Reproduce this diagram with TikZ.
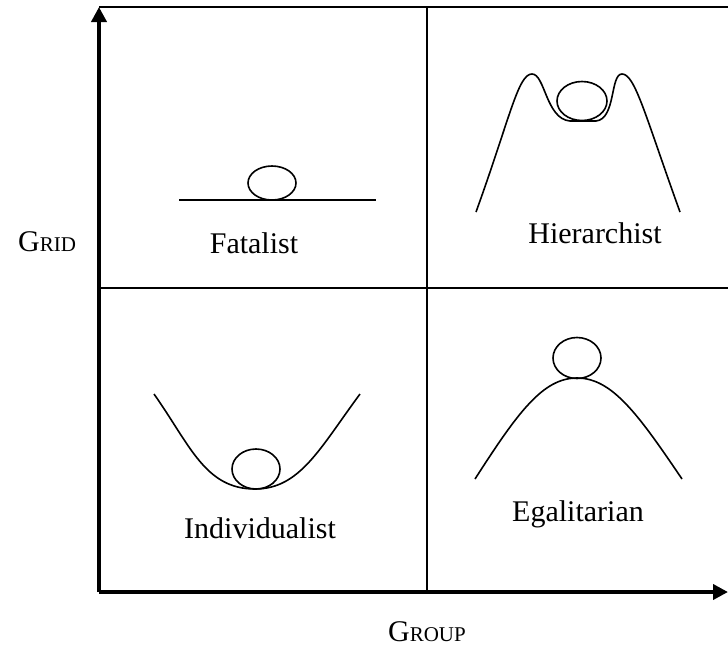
\documentclass[tikz,border=0pt]{standalone}
\usepackage{fontspec}
\setmainfont{Liberation Serif}
\usepackage{tikz}
\usetikzlibrary{arrows.meta,positioning,calc}

\begin{document}
\begin{tikzpicture}[
    x=0.5pt, y=-0.5pt,
    font=\fontsize{15}{18}\selectfont,
    axis/.style={line width=2pt, -{Triangle[length=7.5pt,width=7.5pt]}},
    grid line/.style={line width=0.75pt},
    slope/.style={line width=0.8pt},
    ball/.style={line width=0.8pt},
    kind/.style={inner sep=0pt, anchor=base},
    axlabel/.style={inner sep=0pt, anchor=base}
]
\useasboundingbox (0,0) rectangle (728,649);

% frame and axes
\coordinate (origin) at (99,592);
\coordinate (ytop) at (99,7);
\coordinate (xend) at (728,592);
\coordinate (topright) at (728,7);
\coordinate (midtop) at (427,7);
\coordinate (midbot) at (427,592);
\coordinate (midleft) at (99,288);
\coordinate (midright) at (728,288);

\draw[grid line] (ytop) -- (topright);
\draw[grid line] (midtop) -- (midbot);
\draw[grid line] (midleft) -- (midright);
\draw[axis] (origin) -- (ytop);
\draw[axis] (origin) -- (xend);

\node[axlabel] (grid) at (47,251) {G{\fontsize{10.5}{12}\selectfont RID}};
\node[axlabel] (group) at (427,641) {G{\fontsize{10.5}{12}\selectfont ROUP}};

% fatalist
\draw[slope] (179,200) -- (376,200);
\draw[ball] (272,183) ellipse (24 and 17);
\node[kind] (fatalist) at (254,253) {Fatalist};

% hierarchist
\draw[slope] (476,212) .. controls (510,118) and (518,74) .. (532,74)
    .. controls (545,74) and (546,119) .. (570,121) -- (596,121)
    .. controls (616,119) and (610,74) .. (622,74)
    .. controls (635,74) and (645,115) .. (680,212);
\draw[ball] (582,101) ellipse (25 and 19.5);
\node[kind] (hierarchist) at (595,243) {Hierarchist};

% individualist
\draw[slope] (154,394) .. controls (190,445) and (205,489) .. (255,489)
    .. controls (300,489) and (320,448) .. (360,394);
\draw[ball] (256,469) ellipse (24 and 20);
\node[kind] (individualist) at (260,538) {Individualist};

% egalitarian
\draw[slope] (475,479) .. controls (518,412) and (543,378) .. (577,378)
    .. controls (612,378) and (638,414) .. (682,479);
\draw[ball] (577,358) ellipse (24 and 20.5);
\node[kind] (egalitarian) at (578,521) {Egalitarian};

\end{tikzpicture}
\end{document}
